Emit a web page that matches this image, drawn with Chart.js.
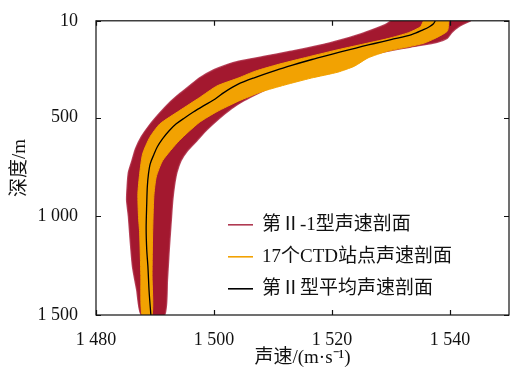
<!DOCTYPE html>
<html><head><meta charset="utf-8">
<script src="https://cdn.jsdelivr.net/npm/chart.js@4/dist/chart.umd.min.js"></script>
<style>html,body{margin:0;padding:0;background:#fff}#wrap{width:510px;height:370px}</style>
</head><body><div id="wrap"><canvas id="c" width="510" height="370"></canvas></div>
<script>
// ---- data ----
const xTickValues = [1480, 1500, 1520, 1540];
const yTickValues = [10, 500, 1000, 1500];
const seriesNames = ['第Ⅱ-1型声速剖面', '17个CTD站点声速剖面', '第Ⅱ型平均声速剖面'];
const xTitle = '声速/(m·s⁻¹)';
const yTitle = '深度/m';

// mean type-II profile (black)
const meanDepth = [10,25,40,55,80,105,125,140,156,180,206,235,260,300,331,371,406,441,472,502,532,567,607,648,688,733,784,849,935,1061,1170,1255,1380,1500];
const meanSpeed = [1537.5,1537.2,1536.5,1535.5,1533.5,1530,1527.2,1525.1,1523,1519.9,1516.6,1513.3,1510.6,1506.7,1504.1,1501.8,1500.2,1498.2,1496.5,1495,1493.6,1492.4,1491.3,1490.4,1489.8,1489.2,1488.9,1488.7,1488.6,1488.5,1488.6,1488.8,1489.0,1489.3];

// envelope of type II-1 profiles (dark red)
const redLeftDepth = [10,30,75,115,147,167,191,215,232,258,300,341,381,426,477,537,597,658,718,778,844,919,1000,1121,1256,1372,1500];
const redLeftSpeed = [1530,1529,1525,1520.5,1516,1512.6,1508.4,1504.2,1502.2,1500,1497.5,1495.8,1494.1,1492.4,1490.8,1489.1,1487.7,1486.7,1486.1,1485.5,1485.3,1485.2,1485.5,1485.8,1486.2,1486.9,1487.7];
const redRightDepth = [10,39,69,99,119,137,154,175,200,227,258,290,331,376,416,456,507,562,617,668,718,779,844,919,1000,1171,1322,1500];
const redRightSpeed = [1543.5,1541.5,1540.3,1539.5,1537.8,1534.5,1531.1,1527.7,1524.4,1521,1517.6,1514.3,1510.9,1507.6,1505,1502.9,1500.8,1498.8,1497.1,1495.5,1494.4,1493.7,1493.3,1493,1492.8,1492.4,1492.1,1491.6];

// envelope of the 17 CTD profiles (orange)
const orangeLeftDepth = [10,40,70,100,130,160,200,230,265,299,340,400,466,533,601,684,785,886,1000,1085,1300,1500];
const orangeLeftSpeed = [1535.5,1535,1533,1529.5,1525,1520.5,1515,1511,1507,1504.2,1500.5,1497.5,1494.1,1490.8,1489.1,1487.9,1487.4,1487.1,1487.2,1487.4,1487.6,1487.8];
const orangeRightDepth = [10,64,123,164,198,240,270,300,335,370,416,470,525,617,718,802,900,1085,1300,1500];
const orangeRightSpeed = [1539.8,1539.5,1535.6,1529.4,1526.1,1523.8,1521,1516.5,1512,1508,1504.2,1500.5,1497.5,1494.1,1491.3,1490.2,1489.8,1489.6,1489.5,1489.5];

// ---- build chart data ----
function profile(depths, speeds) { return depths.map((d, i) => ({ x: speeds[i], y: d })); }
function band(ld, ls, rd, rs) {
  const pts = profile(ld, ls);
  for (let i = rd.length - 1; i >= 0; i--) pts.push({ x: rs[i], y: rd[i] });
  return pts;
}
const RED = '#A3182F', ORANGE = '#F2A202', BLACK = '#000000';
const serif = "'Liberation Serif', 'Noto Sans CJK SC', serif";

function fmt(v) { const s = String(v); return s.length > 3 ? s.slice(0, s.length - 3) + ' ' + s.slice(-3) : s; }

const framePlugin = {
  id: 'frameTicks',
  afterDatasetsDraw(chart) {
    const { ctx, chartArea: a, scales: { x, y } } = chart;
    ctx.save();
    ctx.strokeStyle = '#111'; ctx.lineWidth = 1.2;
    ctx.strokeRect(a.left, a.top, a.right - a.left, a.bottom - a.top);
    const L = 5;
    ctx.beginPath();
    xTickValues.forEach(v => {
      const px = Math.round(x.getPixelForValue(v)) + 0.5;
      ctx.moveTo(px, a.bottom); ctx.lineTo(px, a.bottom - L);
      ctx.moveTo(px, a.top); ctx.lineTo(px, a.top + L);
    });
    yTickValues.forEach(v => {
      const py = Math.round(y.getPixelForValue(v)) + 0.5;
      ctx.moveTo(a.left, py); ctx.lineTo(a.left + L, py);
      ctx.moveTo(a.right, py); ctx.lineTo(a.right - L, py);
    });
    ctx.stroke();
    ctx.restore();
  },
  afterDraw(chart) {
    const { ctx, chartArea: a } = chart;
    const colors = ['#B03A52', ORANGE, BLACK];
    ctx.save();
    ctx.font = '19px ' + serif;
    ctx.fillStyle = '#111';
    ctx.textBaseline = 'middle';
    seriesNames.forEach((name, i) => {
      const cy = a.top + 204 + i * 32;
      const x0 = a.left + 132;
      ctx.strokeStyle = colors[i]; ctx.lineWidth = 1.6;
      ctx.beginPath(); ctx.moveTo(x0, cy); ctx.lineTo(x0 + 25, cy); ctx.stroke();
      ctx.fillText(name, x0 + 34, cy);
    });
    ctx.restore();
  }
};

new Chart(document.getElementById('c'), {
  type: 'line',
  data: {
    datasets: [
      { label: seriesNames[0], data: band(redLeftDepth, redLeftSpeed, redRightDepth, redRightSpeed),
        borderColor: 'rgba(172,40,66,0.85)', backgroundColor: RED, borderWidth: 1.5, fill: 'shape', pointRadius: 0, tension: 0.2, order: 3 },
      { label: seriesNames[1], data: band(orangeLeftDepth, orangeLeftSpeed, orangeRightDepth, orangeRightSpeed),
        borderColor: ORANGE, backgroundColor: ORANGE, borderWidth: 1, fill: 'shape', pointRadius: 0, tension: 0.2, order: 2 },
      { label: seriesNames[2], data: profile(meanDepth, meanSpeed),
        borderColor: BLACK, borderWidth: 1.3, fill: false, pointRadius: 0, tension: 0.3, order: 1 }
    ]
  },
  options: {
    responsive: false, animation: false, devicePixelRatio: 1,
    layout: { padding: { top: 19, right: 1, left: 0, bottom: 0 } },
    plugins: { legend: { display: false }, tooltip: { enabled: false } },
    scales: {
      x: {
        type: 'linear', min: 1480, max: 1550,
        afterBuildTicks: s => { s.ticks = xTickValues.map(v => ({ value: v })); },
        afterFit: s => { s.height = 55; },
        grid: { display: false }, border: { display: false },
        ticks: { callback: fmt, color: '#111', font: { family: serif, size: 18 }, padding: 6, autoSkip: false, maxRotation: 0 },
        title: { display: true, text: xTitle, color: '#111', font: { family: serif, size: 19 }, padding: { top: 0, bottom: 1 } }
      },
      y: {
        type: 'linear', reverse: true, min: 10, max: 1500,
        afterBuildTicks: s => { s.ticks = yTickValues.map(v => ({ value: v })); },
        afterFit: s => { s.width = 96; },
        grid: { display: false }, border: { display: false },
        ticks: { callback: fmt, color: '#111', font: { family: serif, size: 18 }, padding: 10, autoSkip: false },
        title: { display: true, text: yTitle, color: '#111', font: { family: serif, size: 19 }, padding: { top: 9, bottom: 0 } }
      }
    }
  },
  plugins: [framePlugin]
});
</script></body></html>
